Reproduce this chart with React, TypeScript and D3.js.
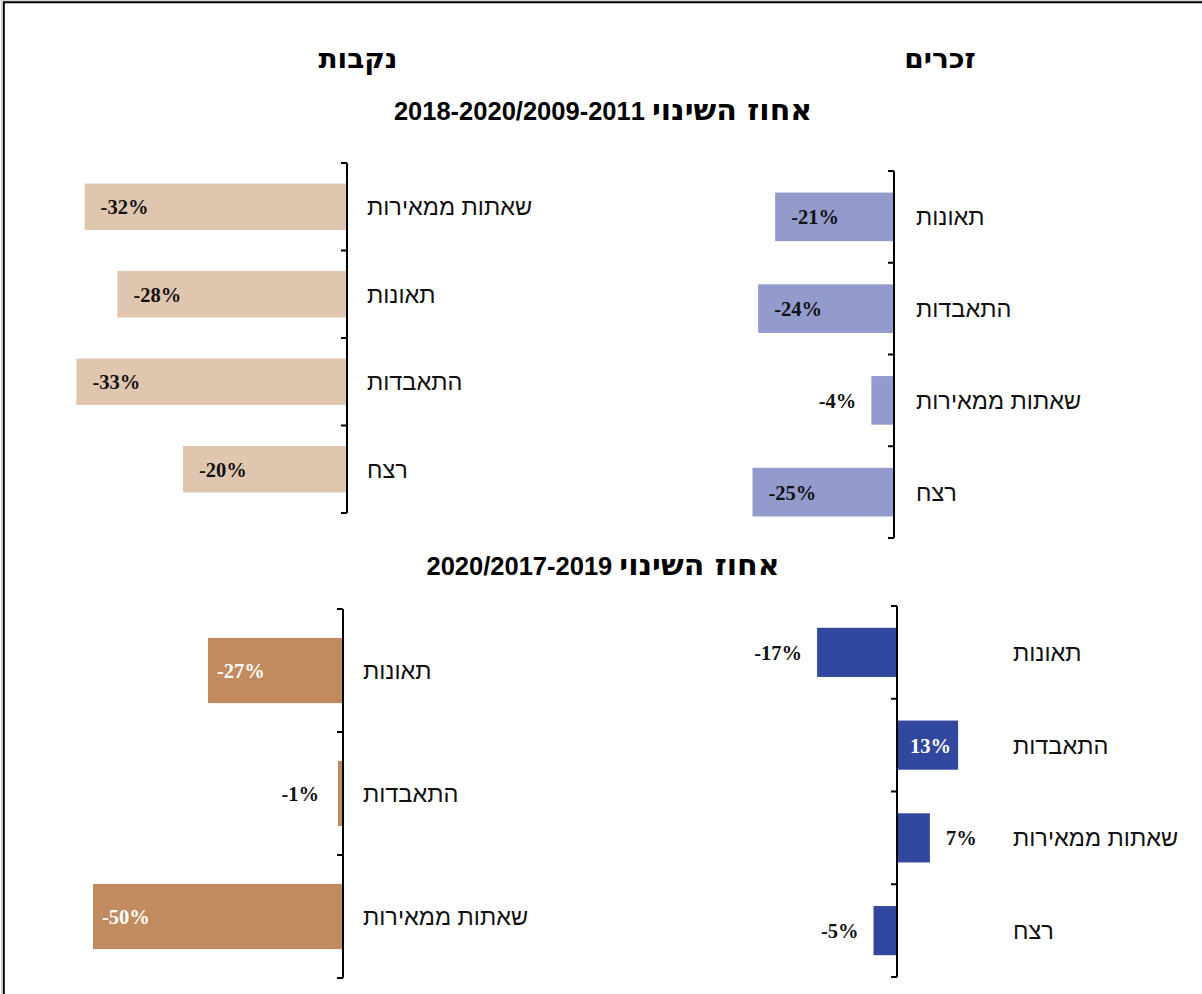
import React from "react";
import * as d3 from "d3";

// ---------- data ----------
const femaleOldCategories = ["שאתות ממאירות", "תאונות", "התאבדות", "רצח"];
const femaleOldValues = [-32, -28, -33, -20];

const maleOldCategories = ["תאונות", "התאבדות", "שאתות ממאירות", "רצח"];
const maleOldValues = [-21, -24, -4, -25];

const femaleNewCategories = ["תאונות", "התאבדות", "שאתות ממאירות"];
const femaleNewValues = [-27, -1, -50];

const maleNewCategories = ["תאונות", "התאבדות", "שאתות ממאירות", "רצח"];
const maleNewValues = [-17, 13, 7, -5];

const titleFemale = "נקבות";
const titleMale = "זכרים";
const subtitleWord = "אחוז השינוי";
const subtitleOldPeriod = "2018-2020/2009-2011";
const subtitleNewPeriod = "2020/2017-2019";

// ---------- layout ----------
type Panel = {
  cats: string[];
  vals: number[];
  axisX: number;
  y0: number;
  y1: number;
  pxPerPct: number;
  color: string;
  insideColor: string;
  labelPos: ("in" | "out")[];
  catX: number;
  insidePad: number;
};

const panels: Panel[] = [
  {
    cats: femaleOldCategories, vals: femaleOldValues,
    axisX: 347, y0: 163, y1: 513, pxPerPct: 8.2,
    color: "#E0C5AF", insideColor: "#111",
    labelPos: ["in", "in", "in", "in"], catX: 367, insidePad: 16,
  },
  {
    cats: maleOldCategories, vals: maleOldValues,
    axisX: 894, y0: 171, y1: 538, pxPerPct: 5.66,
    color: "#939BCC", insideColor: "#111",
    labelPos: ["in", "in", "out", "in"], catX: 916, insidePad: 16,
  },
  {
    cats: femaleNewCategories, vals: femaleNewValues,
    axisX: 343, y0: 609, y1: 978, pxPerPct: 5.0,
    color: "#C28A5F", insideColor: "#FFFFFF",
    labelPos: ["in", "out", "in"], catX: 363, insidePad: 9,
  },
  {
    cats: maleNewCategories, vals: maleNewValues,
    axisX: 897, y0: 606, y1: 977, pxPerPct: 4.7,
    color: "#31489E", insideColor: "#FFFFFF",
    labelPos: ["out", "in", "out", "out"], catX: 1013, insidePad: 7,
  },
];

const serifBold = "'Liberation Serif', 'Times New Roman', serif";
const hebSans = "'Liberation Sans', Arial, sans-serif";
const titleFont = "'DejaVu Sans', Verdana, sans-serif";
const numFont = "'Liberation Sans', Arial, sans-serif";

function fmt(v: number) {
  return `${v}%`;
}

function PanelView({ p }: { p: Panel }) {
  const x = d3
    .scaleLinear()
    .domain([-60, 60])
    .range([p.axisX - 60 * p.pxPerPct, p.axisX + 60 * p.pxPerPct]);
  const y = d3
    .scaleBand<string>()
    .domain(p.cats.map((c, i) => `${i}`))
    .range([p.y0, p.y1])
    .paddingInner(0.47)
    .paddingOuter(0.235);
  const step = y.step();
  const tickYs = d3.range(p.cats.length + 1).map((i) => p.y0 + i * step);
  const x0 = x(0);
  return (
    <g>
      {p.vals.map((v, i) => {
        const key = `${i}`;
        const bx = Math.min(x(v), x0);
        const bw = Math.abs(x(v) - x0);
        const by = y(key)!;
        const cy = by + y.bandwidth() / 2;
        const inside = p.labelPos[i] === "in";
        let lx: number;
        let anchor: "start" | "end";
        if (v < 0) {
          if (inside) {
            lx = x(v) + p.insidePad;
            anchor = "start";
          } else {
            lx = x(v) - (bw < 10 ? 19 : 15);
            anchor = "end";
          }
        } else {
          if (inside) {
            lx = x(v) - p.insidePad;
            anchor = "end";
          } else {
            lx = x(v) + 16;
            anchor = "start";
          }
        }
        return (
          <g key={key}>
            <rect x={bx} y={by} width={bw} height={y.bandwidth()} fill={p.color} />
            <text
              x={lx}
              y={cy}
              dy="0.36em"
              textAnchor={anchor}
              fontFamily={serifBold}
              fontWeight="bold"
              fontSize={20.5}
              fill={inside ? p.insideColor : "#111"}
              direction="ltr"
            >
              {fmt(v)}
            </text>
            <text
              x={p.catX}
              y={cy}
              dy="0.36em"
              textAnchor="start"
              fontFamily={hebSans}
              fontSize={23.5}
              fill="#111"
            >
              {p.cats[i]}
            </text>
          </g>
        );
      })}
      <line x1={x0} x2={x0} y1={p.y0} y2={p.y1} stroke="#000" strokeWidth={2} />
      {tickYs.map((ty, i) => (
        <line key={i} x1={x0 - 6} x2={x0} y1={ty} y2={ty} stroke="#000" strokeWidth={2} />
      ))}
    </g>
  );
}

function Subtitle({ x, y, period }: { x: number; y: number; period: string }) {
  return (
    <text x={x} y={y} textAnchor="middle" fontWeight="bold" fill="#000">
      <tspan fontFamily={titleFont} fontSize={30}>{subtitleWord}</tspan>
      <tspan fontFamily={numFont} fontSize={25.5}>{" " + period}</tspan>
    </text>
  );
}

export default function App() {
  return (
    <svg
      width={1202}
      height={994}
      style={{ position: "absolute", left: 0, top: 0, background: "#fff" }}
    >
      <rect x={0} y={0} width={1202} height={994} fill="#fff" />
      <line x1={0} x2={1202} y1={0.5} y2={0.5} stroke="#d8d8d8" strokeWidth={1} />
      <line x1={3} x2={1202} y1={2.3} y2={2.3} stroke="#000" strokeWidth={2} />
      <line x1={3.8} x2={3.8} y1={1.5} y2={994} stroke="#000" strokeWidth={2} />
      <line x1={1.5} x2={1.5} y1={1.5} y2={994} stroke="#cfcfcf" strokeWidth={1} />

      <text x={358} y={68} textAnchor="middle" fontFamily={titleFont} fontWeight="bold" fontSize={28} fill="#000">
        {titleFemale}
      </text>
      <text x={940} y={68} textAnchor="middle" fontFamily={titleFont} fontWeight="bold" fontSize={28} fill="#000">
        {titleMale}
      </text>
      <Subtitle x={603} y={120} period={subtitleOldPeriod} />
      <Subtitle x={603} y={575} period={subtitleNewPeriod} />

      {panels.map((p, i) => (
        <PanelView key={i} p={p} />
      ))}
    </svg>
  );
}
